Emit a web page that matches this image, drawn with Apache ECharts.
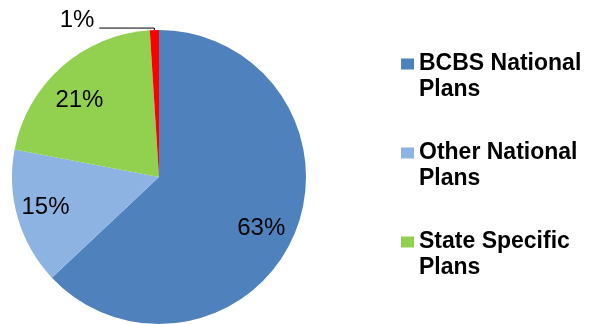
<!DOCTYPE html>
<html>
<head>
<meta charset="utf-8">
<script src="https://cdn.jsdelivr.net/npm/echarts@6/dist/echarts.min.js"></script>
<style>html,body{margin:0;padding:0;background:#fff;}#c{width:590px;height:324px;}</style>
</head>
<body>
<div id="c"></div>
<script>
const categories = ['BCBS National\nPlans', 'Other National\nPlans', 'State Specific\nPlans', 'Other'];
const values = [63, 15, 21, 1];
const labels = ['63%', '15%', '21%', '1%'];
const colors = ['#4F81BD', '#8DB3E2', '#92D050', '#FF0000'];
const labelShift = [[32, 21], [-40, 9], [-29, -19], [-3, -8]];

const chart = echarts.init(document.getElementById('c'), null, {renderer: 'canvas'});
chart.setOption({
  animation: false,
  legend: {
    orient: 'vertical',
    left: 401,
    top: 25,
    padding: 0,
    itemWidth: 13,
    itemHeight: 11,
    itemGap: 11,
    icon: 'rect',
    data: categories.slice(0, 3),
    formatter: name => '\u00a0\n' + name,
    textStyle: {
      fontFamily: 'Liberation Sans, Arial, sans-serif',
      fontWeight: 'bold',
      fontSize: 23,
      lineHeight: 26,
      color: '#000'
    }
  },
  series: [{
    type: 'pie',
    center: [159, 177],
    radius: [0, 147],
    startAngle: 90,
    clockwise: true,
    silent: true,
    data: categories.map((n, i) => ({
      name: n,
      value: values[i],
      itemStyle: {color: colors[i]},
      label: i < 3 ? {position: 'inside'} : {position: 'outside', distanceToLabelLine: 2},
      labelLine: i < 3 ? {show: false} : {show: true, length: 2, length2: 55, lineStyle: {color: '#000', width: 1}}
    })),
    label: {
      formatter: p => labels[p.dataIndex],
      fontFamily: 'Liberation Sans, Arial, sans-serif',
      fontSize: 24,
      color: '#000'
    },
    labelLayout: p => ({dx: labelShift[p.dataIndex][0], dy: labelShift[p.dataIndex][1]})
  }]
});
</script>
</body>
</html>
